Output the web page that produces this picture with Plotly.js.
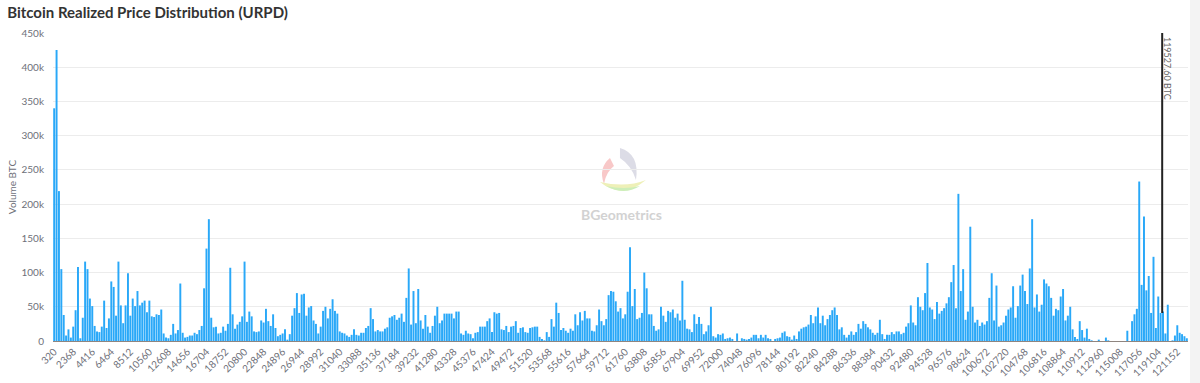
<!DOCTYPE html>
<html>
<head>
<meta charset="utf-8">
<script src="https://cdn.plot.ly/plotly-3.0.1.min.js"></script>
<style>
  html, body { margin: 0; padding: 0; background: #ffffff; }
  #chart { width: 1200px; height: 383px; }
</style>
</head>
<body>
<div id="chart"></div>
<script>
// ---- Data ----
const binStart = 320;      // first realized-price bin (USD)
const binWidth = 256;      // bin width (USD)

// Volume per bin, in thousands of BTC
const volumeK = [
  340, 425, 219, 105, 38, 8, 17, 5, 21, 45,
  108, 4, 34, 116, 105, 62, 51, 22, 14, 13,
  21, 59, 19, 33, 87, 79, 37, 116, 52, 26,
  52, 99, 37, 62, 51, 73, 52, 56, 59, 42,
  59, 36, 35, 39, 38, 46, 11, 5, 4, 9,
  25, 11, 16, 84, 12, 5, 6, 8, 8, 12,
  10, 16, 22, 77, 135, 178, 34, 20, 21, 11,
  12, 21, 15, 25, 107, 39, 18, 24, 28, 36,
  116, 28, 43, 36, 14, 13, 14, 30, 27, 47,
  29, 22, 39, 19, 7, 9, 11, 17, 2, 10,
  37, 48, 70, 41, 68, 69, 37, 49, 51, 30,
  25, 11, 21, 44, 50, 33, 47, 61, 44, 40,
  14, 12, 11, 8, 6, 9, 17, 9, 8, 12,
  12, 19, 22, 48, 32, 14, 16, 14, 14, 18,
  20, 34, 36, 38, 31, 34, 40, 28, 63, 106,
  24, 73, 26, 76, 30, 18, 38, 21, 12, 22,
  37, 50, 26, 30, 40, 40, 40, 40, 33, 43,
  43, 11, 9, 15, 11, 10, 4, 12, 13, 21,
  21, 21, 29, 33, 13, 42, 40, 41, 17, 16,
  22, 13, 21, 22, 29, 12, 19, 20, 13, 12,
  19, 20, 21, 21, 6, 3, 1, 13, 6, 32,
  21, 56, 41, 16, 19, 15, 12, 18, 15, 39,
  23, 42, 30, 44, 33, 33, 15, 14, 23, 46,
  29, 23, 32, 67, 73, 72, 58, 43, 48, 33,
  39, 72, 137, 51, 76, 32, 34, 41, 100, 77,
  39, 39, 22, 15, 17, 50, 37, 28, 44, 42,
  46, 34, 40, 30, 88, 31, 18, 17, 13, 39,
  25, 35, 25, 10, 14, 23, 50, 7, 5, 10,
  9, 11, 3, 4, 5, 3, 0, 11, 0, 4,
  3, 2, 3, 5, 9, 9, 4, 9, 5, 9,
  4, 3, 0, 3, 4, 5, 12, 14, 7, 6,
  2, 8, 3, 14, 18, 20, 21, 24, 38, 26,
  36, 49, 26, 37, 23, 32, 38, 45, 49, 38,
  17, 20, 9, 5, 9, 14, 9, 13, 25, 18,
  29, 25, 20, 17, 12, 9, 12, 31, 10, 3,
  9, 9, 13, 10, 14, 14, 10, 12, 21, 26,
  52, 27, 23, 64, 50, 45, 70, 114, 49, 46,
  32, 57, 40, 44, 48, 55, 64, 86, 111, 48,
  215, 73, 105, 31, 43, 167, 50, 27, 31, 22,
  27, 24, 29, 63, 99, 30, 81, 21, 23, 27,
  37, 46, 49, 80, 34, 51, 81, 97, 73, 54,
  106, 178, 49, 68, 43, 53, 90, 84, 80, 63,
  37, 47, 45, 65, 76, 30, 37, 50, 17, 6,
  3, 29, 16, 5, 18, 3, 1, 0, 0, 2,
  0, 0, 5, 1, 0, 0, 0, 0, 0, 0,
  0, 15, 0, 29, 39, 47, 233, 82, 182, 74,
  95, 41, 123, 19, 65, 41, 43, 11, 53, 0,
  1, 8, 23, 12, 10, 7, 4
];

// X tick labels shown on the axis (every 8th bin)
const xTickLabels = [
  320, 2368, 4416, 6464, 8512, 10560, 12608, 14656, 16704, 18752,
  20800, 22848, 24896, 26944, 28992, 31040, 33088, 35136, 37184, 39232,
  41280, 43328, 45376, 47424, 49472, 51520, 53568, 55616, 57664, 59712,
  61760, 63808, 65856, 67904, 69952, 72000, 74048, 76096, 78144, 80192,
  82240, 84288, 86336, 88384, 90432, 92480, 94528, 96576, 98624, 100672,
  102720, 104768, 106816, 108864, 110912, 112960, 115008, 117056, 119104, 121152
];

// Y axis ticks (thousands of BTC)
const yTickVals = [0, 50, 100, 150, 200, 250, 300, 350, 400, 450];
const yTickText = ['0', '50k', '100k', '150k', '200k', '250k', '300k', '350k', '400k', '450k'];

// Current price marker
const currentPrice = 119527.60;
const currentPriceLabel = '119527.60 BTC';
const markerBottomK = 41;

// ---- Build chart ----
const priceBins = volumeK.map((_, i) => binStart + i * binWidth);
const N = volumeK.length;

const trace = {
  type: 'bar',
  x: priceBins,
  y: volumeK,
  marker: { color: '#29a8f8', line: { width: 0 } },
  hoverinfo: 'x+y'
};

const logoSvg =
  "<svg xmlns='http://www.w3.org/2000/svg' width='52' height='54' viewBox='0 0 52 54'>" +
  "<path d='M24 4 Q44 10 40 36 Q36 22 24 14 Z' fill='#dcdce6'/>" +
  "<path d='M14 14 Q2 24 8 40 Q10 28 18 22 Z' fill='#f8c8c8'/>" +
  "<path d='M4 38 Q26 56 50 36 Q30 44 4 38 Z' fill='#eef0b8'/>" +
  "<path d='M10 42 Q28 52 44 42 Q28 46 10 42 Z' fill='#cdeeb9'/>" +
  "</svg>";
const logoSrc = 'data:image/svg+xml;charset=utf-8,' + encodeURIComponent(logoSvg);

const layout = {
  width: 1200,
  height: 383,
  paper_bgcolor: '#ffffff',
  plot_bgcolor: '#ffffff',
  margin: { l: 53, r: 12, t: 33, b: 42 },
  bargap: 0.18,
  showlegend: false,
  font: { family: 'Lato, "Noto Sans", sans-serif', color: '#6e7079', size: 10 },
  title: {
    text: '<b>Bitcoin Realized Price Distribution (URPD)</b>',
    xref: 'container', yref: 'container',
    x: 0.006, xanchor: 'left',
    y: 0.967, yanchor: 'middle',
    font: { family: 'Lato, "Noto Sans", sans-serif', size: 15, color: '#333333' }
  },
  xaxis: {
    type: 'linear',
    range: [binStart - binWidth / 2, binStart + (N - 0.5) * binWidth],
    tickvals: xTickLabels,
    ticktext: xTickLabels.map(String),
    tickangle: -45,
    tickfont: { size: 10, color: '#6e7079' },
    showgrid: false,
    zeroline: false,
    showline: true,
    linecolor: '#8f8580',
    linewidth: 1,
    ticks: '',
    fixedrange: true
  },
  yaxis: {
    range: [0, 450],
    tickvals: yTickVals,
    ticktext: yTickText,
    tickfont: { size: 10, color: '#6e7079' },
    gridcolor: '#ececec',
    gridwidth: 1,
    zeroline: false,
    showline: false,
    ticks: '',
    ticklabelstandoff: 8,
    title: { text: 'Volume BTC', font: { size: 10, color: '#6e7079' }, standoff: 3 },
    fixedrange: true
  },
  shapes: [
    {
      type: 'line', xref: 'x', yref: 'y',
      x0: currentPrice, x1: currentPrice, y0: markerBottomK, y1: 450,
      line: { color: '#222222', width: 2 }
    },
    {
      type: 'rect', xref: 'paper', yref: 'paper', layer: 'below',
      x0: 1.0018, x1: 1.0106, y0: -0.14, y1: 1.11,
      fillcolor: '#f3f3f3', line: { width: 0 }
    }
  ],
  annotations: [
    {
      x: currentPrice, xref: 'x', y: 0.886, yref: 'paper',
      text: currentPriceLabel, textangle: 90, showarrow: false,
      xshift: 6, xanchor: 'center', yanchor: 'middle',
      font: { size: 9, color: '#666666' }
    },
    {
      x: 0.5013, xref: 'paper', y: 0.41, yref: 'paper',
      text: '<b>BGeometrics</b>', showarrow: false,
      xanchor: 'center', yanchor: 'middle',
      font: { family: 'Lato, "Noto Sans", sans-serif', size: 14, color: '#d2d2d2' }
    }
  ],
  images: [
    {
      source: logoSrc, xref: 'paper', yref: 'paper',
      x: 0.4784, y: 0.6396, sizex: 0.0458, sizey: 0.1753,
      xanchor: 'left', yanchor: 'top', sizing: 'stretch', layer: 'below'
    }
  ]
};

Plotly.newPlot('chart', [trace], layout, { displayModeBar: false, staticPlot: true });
</script>
</body>
</html>
